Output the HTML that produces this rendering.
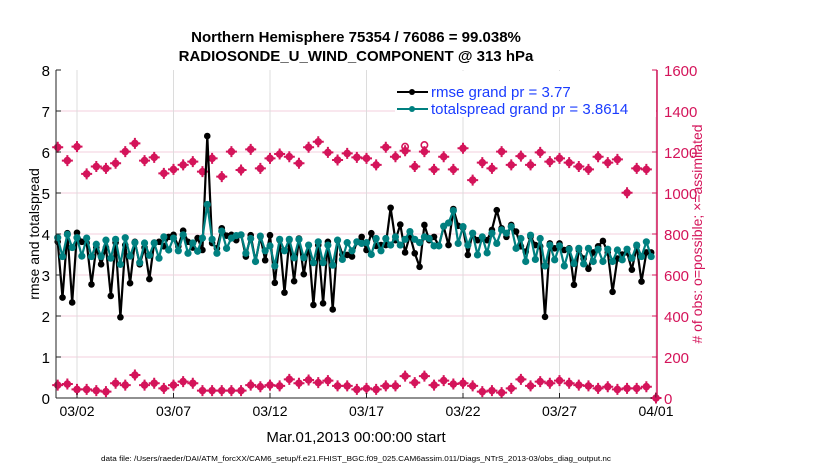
<!DOCTYPE html>
<html><head><meta charset="utf-8"><style>
body{margin:0;background:#fff;}
svg{display:block;font-family:"Liberation Sans",sans-serif;}
</style></head><body>
<svg id="chart" width="830" height="470" viewBox="0 0 830 470">
<text x="356" y="42" text-anchor="middle" font-size="15" font-weight="bold">Northern Hemisphere 75354 / 76086 = 99.038%</text>
<text x="356" y="61" text-anchor="middle" font-size="15" font-weight="bold">RADIOSONDE_U_WIND_COMPONENT @ 313 hPa</text>
<g id="grid"></g>
<g id="obs"></g>
<g id="lines"></g>
<g id="axes"></g>
<text transform="translate(39,234) rotate(-90)" text-anchor="middle" font-size="14">rmse and totalspread</text>
<text transform="translate(702,234) rotate(-90)" text-anchor="middle" font-size="14" fill="#d4145a"># of obs: o=possible; ×=assimilated</text>
<text x="356" y="442" text-anchor="middle" font-size="15">Mar.01,2013 00:00:00 start</text>
<text x="356" y="461" text-anchor="middle" font-size="7.5" textLength="510" lengthAdjust="spacingAndGlyphs">data file: /Users/raeder/DAI/ATM_forcXX/CAM6_setup/f.e21.FHIST_BGC.f09_025.CAM6assim.011/Diags_NTrS_2013-03/obs_diag_output.nc</text>
<g>
<rect x="395" y="71" width="261" height="46" fill="#fff"/>
<line x1="397" y1="92" x2="428" y2="92" stroke="#000" stroke-width="2"/>
<circle cx="412" cy="92" r="3" fill="#000"/>
<text x="431" y="97" font-size="15" fill="#1a3cff">rmse grand pr = 3.77</text>
<line x1="397" y1="109" x2="428" y2="109" stroke="#008080" stroke-width="2"/>
<circle cx="412" cy="109" r="3" fill="#008080"/>
<text x="431" y="114" font-size="15" fill="#1a3cff">totalspread grand pr = 3.8614</text>
</g>
</svg>
<script>
const rmse=[3.81,2.45,4.02,2.33,4.03,3.81,3.78,2.77,3.67,3.26,3.67,2.49,3.79,1.97,3.73,2.80,3.81,3.26,3.67,2.90,3.79,3.81,3.70,3.93,3.98,3.70,4.08,3.81,3.67,3.90,3.61,6.39,3.78,3.65,4.14,3.96,3.98,3.85,3.98,3.45,
3.97,3.33,3.93,3.36,3.97,2.81,3.85,2.57,3.85,2.85,3.89,3.02,3.73,2.27,3.73,2.31,3.81,2.16,3.85,3.50,3.49,3.45,3.81,3.93,3.61,4.02,3.71,3.73,3.73,4.64,3.85,4.23,3.55,3.97,3.53,3.20,4.22,3.85,3.93,3.71,4.18,3.73,
4.61,4.20,4.15,3.49,4.02,3.85,3.89,3.85,4.10,4.58,4.14,3.93,4.22,4.06,3.70,3.57,3.93,3.73,3.70,1.98,3.77,3.65,3.77,3.61,3.65,2.76,3.61,3.40,3.15,3.55,3.70,3.83,3.55,2.59,3.40,3.50,3.55,3.13,3.70,2.84,3.55,3.55];
const spread=[3.91,3.45,3.99,3.67,3.91,3.46,3.90,3.45,3.75,3.45,3.85,3.41,3.87,3.26,3.91,3.46,3.79,3.30,3.78,3.48,3.78,3.41,3.93,3.61,3.90,3.59,3.98,3.53,3.78,3.58,3.90,4.72,3.87,3.53,4.07,3.65,3.90,3.96,3.98,3.53,
3.89,3.33,3.95,3.59,3.71,3.22,3.87,3.59,3.87,3.42,3.87,3.42,3.73,3.30,3.81,3.30,3.73,3.24,3.85,3.38,3.79,3.59,3.81,3.77,3.79,3.50,3.89,3.59,3.89,3.73,3.93,3.73,3.87,4.06,3.87,3.79,3.93,3.89,3.71,3.71,4.19,4.27,
4.57,3.77,4.18,3.73,4.02,3.49,3.93,3.54,4.02,3.77,4.10,4.02,4.18,3.65,3.89,3.33,3.97,3.38,3.89,3.22,3.73,3.37,3.71,3.22,3.63,3.28,3.65,3.27,3.65,3.33,3.63,3.33,3.63,3.33,3.61,3.37,3.63,3.41,3.73,3.45,3.81,3.45];
const obsAssim=[1223,1158,1226,1093,1129,1120,1145,1202,1242,1158,1174,1096,1115,1137,1153,1104,1169,1080,1202,1112,1213,1120,1169,1190,1177,1145,1223,1250,1198,1161,1193,1174,1169,1137,1223,1177,1206,1129,1202,1115,1177,1115,1218,1063,1148,1120,1202,1137,1180,1137,1198,1153,1169,1148,1129,1115,1177,1148,1164,1001,1120,1115];
const obsPossible=[1223,1158,1226,1093,1129,1120,1145,1202,1242,1158,1174,1096,1115,1137,1153,1104,1169,1080,1202,1112,1213,1120,1169,1190,1177,1145,1223,1250,1198,1161,1193,1174,1169,1137,1223,1177,1226,1129,1234,1115,1177,1115,1218,1063,1148,1120,1202,1137,1180,1137,1198,1153,1169,1148,1129,1115,1177,1148,1164,1001,1120,1115];
const obsLow=[63,68,42,42,36,31,72,63,112,63,72,47,63,80,72,36,36,36,36,36,63,55,63,59,91,72,88,75,85,59,59,
42,47,42,59,59,107,75,107,63,85,68,72,59,31,36,26,47,91,59,80,72,85,72,63,59,47,55,42,47,47,55,0];
const yTicks=[0,1,2,3,4,5,6,7,8];
const rTicks=[0,200,400,600,800,1000,1200,1400,1600];
const xTickLabels=["03/02","03/07","03/12","03/17","03/22","03/27","04/01"];
const xTickDays=[1,6,11,16,21,26,31];

const NS="http://www.w3.org/2000/svg";
const L=56,R=657,T=70,B=398;
const xs=d=>57.7+d*19.3;
const ys=v=>B-(v/8)*(B-T);
const yr=c=>B-(c/1600)*(B-T);
function mk(tag,at,parent){const e=document.createElementNS(NS,tag);for(const k in at)e.setAttribute(k,at[k]);parent.appendChild(e);return e;}
const grid=document.getElementById('grid'),axes=document.getElementById('axes'),obs=document.getElementById('obs'),lines=document.getElementById('lines');
mk('rect',{x:L,y:T,width:R-L,height:B-T,fill:'#fff'},grid);
yTicks.forEach(v=>{if(v>0&&v<8){const g=mk('line',{x1:L,x2:R,y1:ys(v),y2:ys(v),stroke:'#f3cfdc','stroke-width':1},grid);

}});
xTickDays.forEach((d,i)=>{const x=xs(d);
const g=mk('line',{x1:x,x2:x,y1:T,y2:B,stroke:'#dcdcdc','stroke-width':1},grid);


mk('line',{x1:x,x2:x,y1:B,y2:B-5,stroke:'#222'},axes);
const t=mk('text',{x:x,y:416,'text-anchor':'middle','font-size':14},axes);t.textContent=xTickLabels[i];

});
mk('line',{x1:L,x2:R,y1:B,y2:B,stroke:'#222','stroke-width':1},axes);
mk('line',{x1:L,x2:L,y1:T,y2:B,stroke:'#222','stroke-width':1},axes);
mk('line',{x1:R,x2:R,y1:T,y2:B,stroke:'#d4145a','stroke-width':1.5},axes);
yTicks.forEach(v=>{const t=mk('text',{x:50,y:ys(v)+6,'text-anchor':'end','font-size':15},axes);t.textContent=v;


mk('line',{x1:L,x2:L+5,y1:ys(v),y2:ys(v),stroke:'#222'},axes);});
rTicks.forEach(c=>{const t=mk('text',{x:664,y:yr(c)+6,'font-size':15,fill:'#d4145a'},axes);t.textContent=c;


mk('line',{x1:R-5,x2:R,y1:yr(c),y2:yr(c),stroke:'#d4145a'},axes);});
function obsMark(x,y,name,circle){
const g=mk('g',{},obs);


if(circle){mk('circle',{cx:x,cy:y,r:3.2,fill:'none',stroke:'#d4145a','stroke-width':1.6},g);}
else{mk('circle',{cx:x,cy:y,r:3.8,fill:'#d4145a'},g);
mk('path',{d:`M${x-5.5} ${y}H${x+5.5}M${x} ${y-5.5}V${y+5.5}`,stroke:'#d4145a','stroke-width':2},g);}
}
obsPossible.forEach((c,i)=>{if(c!==obsAssim[i])obsMark(xs(i*0.5),yr(c),'obs-possible-marker',true);});
obsAssim.forEach((c,i)=>obsMark(xs(i*0.5),yr(c),'obs-assimilated-marker',false));
obsLow.forEach((c,i)=>obsMark(xs(i*0.5),yr(c),'obs-low-marker',false));
function series(arr,color,name,r){
const pts=arr.map((v,i)=>xs(i*0.25).toFixed(1)+','+ys(v).toFixed(1)).join(' ');
const pl=mk('polyline',{points:pts,fill:'none',stroke:color,'stroke-width':2.2,'stroke-linejoin':'round'},lines);


arr.forEach((v,i)=>{const c=mk('circle',{cx:xs(i*0.25),cy:ys(v),r:r,fill:color},lines);

});
}
series(rmse,'#000','rmse',3.3);
series(spread,'#008080','totalspread',3.6);
</script>
</body></html>
